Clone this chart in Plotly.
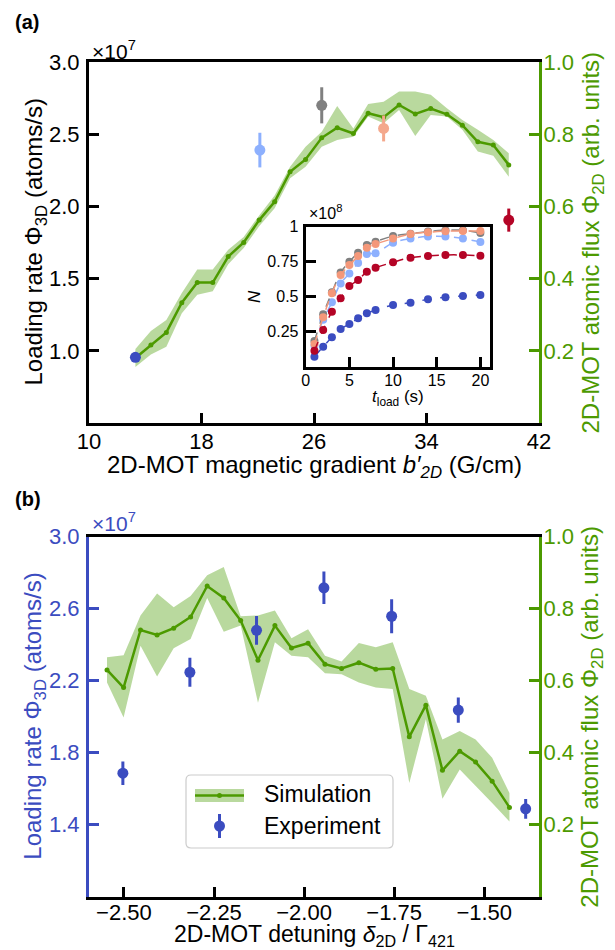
import plotly.graph_objects as go

# ---------------- data ----------------
# Panel (a): simulation (right axis, arb. units)
grad_sim = [13.3, 14.4, 15.5, 16.6, 17.7, 18.8, 19.9, 21.0, 22.1, 23.2, 24.3, 25.4,
            26.55, 27.65, 28.8, 29.85, 30.95, 32.05, 33.2, 34.3, 35.45, 36.55, 37.65, 38.75, 39.85]
flux_sim_a = [0.180, 0.216, 0.251, 0.333, 0.389, 0.389, 0.461, 0.500, 0.562, 0.613, 0.696, 0.730,
              0.790, 0.818, 0.802, 0.858, 0.847, 0.881, 0.856, 0.871, 0.855, 0.825, 0.779, 0.770, 0.715]
flux_hi_a = [0.205, 0.255, 0.285, 0.360, 0.425, 0.425, 0.480, 0.515, 0.575, 0.630, 0.710, 0.765,
             0.807, 0.878, 0.816, 0.884, 0.890, 0.918, 0.918, 0.909, 0.872, 0.839, 0.812, 0.784, 0.747]
flux_lo_a = [0.155, 0.190, 0.211, 0.304, 0.355, 0.365, 0.440, 0.485, 0.545, 0.595, 0.678, 0.710,
             0.765, 0.784, 0.793, 0.849, 0.830, 0.867, 0.795, 0.853, 0.849, 0.812, 0.752, 0.740, 0.682]

# Panel (a): experiment (left axis, units of 1e7 atoms/s)
grad_exp = [13.3, 22.15, 26.55, 30.95, 39.85]
load_exp_a = [0.955, 2.39, 2.70, 2.54, 1.905]
load_err_a = [0.03, 0.12, 0.125, 0.09, 0.08]
exp_colors_a = ["#3b4cc0", "#8db0fe", "#808080", "#f4a88c", "#b40426"]

# Inset: loading curves (units of 1e8 atoms)
t_load = [1, 2, 3, 4, 5, 6, 7, 8, 10, 12, 14, 16, 18, 20]
N_blue = [0.071, 0.143, 0.210, 0.269, 0.305, 0.346, 0.381, 0.405, 0.441, 0.457, 0.481, 0.496, 0.505, 0.512]
N_lightblue = [0.150, 0.335, 0.460, 0.595, 0.665, 0.740, 0.805, 0.810, 0.885, 0.915, 0.930, 0.930, 0.915, 0.890]
N_gray = [0.183, 0.374, 0.531, 0.672, 0.750, 0.814, 0.869, 0.893, 0.933, 0.950, 0.965, 0.975, 0.975, 0.955]
N_salmon = [0.162, 0.353, 0.524, 0.655, 0.726, 0.790, 0.850, 0.876, 0.915, 0.948, 0.960, 0.968, 0.970, 0.969]
N_red = [0.114, 0.262, 0.393, 0.489, 0.576, 0.619, 0.679, 0.707, 0.746, 0.779, 0.791, 0.798, 0.798, 0.792]
inset_series = [N_blue, N_lightblue, N_gray, N_salmon, N_red]
inset_colors = ["#3b4cc0", "#8db0fe", "#808080", "#f4987a", "#b40426"]

# Panel (b): simulation
detuning_sim = [-2.547, -2.501, -2.454, -2.408, -2.362, -2.315, -2.269, -2.223, -2.176, -2.128,
                -2.081, -2.035, -1.989, -1.942, -1.896, -1.848, -1.801, -1.754, -1.708, -1.662,
                -1.616, -1.568, -1.524, -1.478, -1.430]
flux_sim_b = [0.630, 0.581, 0.741, 0.727, 0.746, 0.777, 0.863, 0.830, 0.767, 0.657,
              0.753, 0.691, 0.704, 0.646, 0.634, 0.650, 0.632, 0.634, 0.444, 0.532,
              0.351, 0.404, 0.374, 0.321, 0.248]
flux_hi_b = [0.665, 0.671, 0.781, 0.842, 0.804, 0.835, 0.893, 0.916, 0.779, 0.781,
             0.795, 0.718, 0.743, 0.669, 0.653, 0.705, 0.693, 0.707, 0.577, 0.558,
             0.437, 0.460, 0.437, 0.386, 0.288]
flux_lo_b = [0.595, 0.498, 0.697, 0.612, 0.690, 0.716, 0.830, 0.736, 0.753, 0.539,
             0.707, 0.669, 0.665, 0.621, 0.618, 0.595, 0.581, 0.577, 0.316, 0.493,
             0.272, 0.353, 0.307, 0.260, 0.209]

# Panel (b): experiment
detuning_exp = [-2.503, -2.317, -2.132, -1.945, -1.757, -1.572, -1.385]
load_exp_b = [1.686, 2.247, 2.480, 2.716, 2.558, 2.037, 1.488]
load_err_b = [0.065, 0.080, 0.080, 0.090, 0.095, 0.070, 0.055]

# ---------------- styling ----------------
W, H = 615, 950
FONT = "Liberation Sans"
GREEN = "#4c9a00"
BAND = "rgba(100,170,40,0.45)"
BLUE = "#3b4cc0"


def fx(p):
    return p / W


def fy(p):
    return 1 - p / H


fig = go.Figure()

# ----- panel (a) -----
fig.add_trace(go.Scatter(x=grad_sim + grad_sim[::-1], y=flux_hi_a + flux_lo_a[::-1],
                         fill="toself", fillcolor=BAND, line=dict(width=0), mode="lines",
                         hoverinfo="skip", xaxis="x", yaxis="y"))
fig.add_trace(go.Scatter(x=grad_sim, y=flux_sim_a, mode="lines+markers",
                         line=dict(color=GREEN, width=2.5), marker=dict(color=GREEN, size=5),
                         xaxis="x", yaxis="y"))
for g, v, e, c in zip(grad_exp, load_exp_a, load_err_a, exp_colors_a):
    fig.add_trace(go.Scatter(x=[g], y=[v], mode="markers",
                             marker=dict(color=c, size=11),
                             error_y=dict(type="data", array=[e], color=c, thickness=3, width=0),
                             xaxis="x", yaxis="y2"))

# ----- inset -----
for N, c in zip(inset_series, inset_colors):
    fig.add_trace(go.Scatter(x=t_load, y=N, mode="lines+markers",
                             line=dict(color=c, width=1.5, dash="dash", shape="spline"),
                             marker=dict(color=c, size=8), xaxis="x3", yaxis="y5"))

# ----- panel (b) -----
fig.add_trace(go.Scatter(x=detuning_sim + detuning_sim[::-1], y=flux_hi_b + flux_lo_b[::-1],
                         fill="toself", fillcolor=BAND, line=dict(width=0), mode="lines",
                         hoverinfo="skip", xaxis="x2", yaxis="y3"))
fig.add_trace(go.Scatter(x=detuning_sim, y=flux_sim_b, mode="lines+markers",
                         line=dict(color=GREEN, width=2.5), marker=dict(color=GREEN, size=5),
                         xaxis="x2", yaxis="y3"))
fig.add_trace(go.Scatter(x=detuning_exp, y=load_exp_b, mode="markers",
                         marker=dict(color=BLUE, size=11),
                         error_y=dict(type="data", array=load_err_b, color=BLUE, thickness=3, width=0),
                         xaxis="x2", yaxis="y4"))


def axis_style(color, size=22, ticklen=10, standoff=0):
    return dict(showline=True, linewidth=3, linecolor=color, ticks="inside", ticklen=ticklen,
                tickwidth=3, tickcolor=color, tickfont=dict(size=size, color=color, family=FONT),
                showgrid=False, zeroline=False, ticklabelstandoff=standoff, automargin=False)


fig.update_layout(
    template="none",
    width=W, height=H, margin=dict(l=0, r=0, t=0, b=0, autoexpand=False),
    paper_bgcolor="white", plot_bgcolor="white", showlegend=False,
    font=dict(family=FONT, color="black", size=16),
    xaxis=dict(domain=[fx(89), fx(539)], range=[10, 42], anchor="y",
               tickvals=[10, 18, 26, 34, 42], mirror=True, **axis_style("black", standoff=-3)),
    yaxis=dict(domain=[fy(423), fy(62)], range=[0, 1], anchor="x", side="right",
               tickvals=[0.2, 0.4, 0.6, 0.8, 1.0], tickformat=".1f",
               **axis_style(GREEN, standoff=-3)),
    yaxis2=dict(range=[0.5, 3.0], overlaying="y", anchor="x", side="left",
                tickvals=[1.0, 1.5, 2.0, 2.5, 3.0], tickformat=".1f",
                **axis_style("black", standoff=2)),
    xaxis2=dict(domain=[fx(89), fx(539)], range=[-2.597, -1.348], anchor="y3",
                tickvals=[-2.5, -2.25, -2.0, -1.75, -1.5], tickformat=".2f", mirror=True,
                **axis_style("black", standoff=-6)),
    yaxis3=dict(domain=[fy(896.7), fy(536.7)], range=[0, 1], anchor="x2", side="right",
                tickvals=[0.2, 0.4, 0.6, 0.8, 1.0], tickformat=".1f",
                **axis_style(GREEN, standoff=-3)),
    yaxis4=dict(range=[1.0, 3.0], overlaying="y3", anchor="x2", side="left",
                tickvals=[1.4, 1.8, 2.2, 2.6, 3.0], tickformat=".1f",
                **axis_style(BLUE, standoff=2)),
    xaxis3=dict(domain=[fx(305.7), fx(490)], range=[0, 21.1], anchor="y5",
                tickvals=[0, 5, 10, 15, 20], mirror=True,
                **axis_style("black", 16, standoff=-3)),
    yaxis5=dict(domain=[fy(366.7), fy(226.7)], range=[0, 1], anchor="x3",
                tickvals=[0.25, 0.5, 0.75, 1.0], ticktext=["0.25", "0.5", "0.75", "1"],
                mirror=True, **axis_style("black", 16, standoff=1)),
)

ann = []


def add_text(text, x, y, size, color="black", angle=0, xanchor="center", bold=False):
    ann.append(dict(text=("<b>%s</b>" % text) if bold else text, x=fx(x), y=fy(y),
                    xref="paper", yref="paper", showarrow=False, xanchor=xanchor,
                    yanchor="middle", textangle=angle,
                    font=dict(size=size, color=color, family=FONT)))


add_text("(a)", 13, 22, 20, xanchor="left", bold=True)
add_text("(b)", 13, 499, 20, xanchor="left", bold=True)
add_text("×10<sup>7</sup>", 90, 50, 21, xanchor="left")
add_text("×10<sup>7</sup>", 90, 522, 21, color=BLUE, xanchor="left")
add_text("Loading rate Φ<sub>3D</sub> (atoms/s)", 35, 242.5, 24, angle=-90)
add_text("2D-MOT atomic flux Φ<sub>2D</sub> (arb. units)", 592, 242.5, 24, color=GREEN, angle=-90)
add_text("2D-MOT magnetic gradient <i>b′</i><sub><i>2D</i></sub> (G/cm)", 314, 466, 24)
add_text("Loading rate Φ<sub>3D</sub> (atoms/s)", 35, 716.7, 24, color=BLUE, angle=-90)
add_text("2D-MOT atomic flux Φ<sub>2D</sub> (arb. units)", 592, 716.7, 24, color=GREEN, angle=-90)
add_text("2D-MOT detuning <i>δ</i><sub>2D</sub> / Γ<sub>421</sub>", 314, 935, 23)
add_text("×10<sup>8</sup>", 307, 212, 16, xanchor="left")
add_text("<i>N</i>", 255, 297, 17, angle=-90)
add_text("<i>t</i><sub>load</sub> (s)", 398, 398, 17)
add_text("Simulation", 262, 794, 23, xanchor="left")
add_text("Experiment", 262, 826, 23, xanchor="left")


def rounded_rect(x0, y0, x1, y1, r):
    X = fx
    Y = fy
    return (f"M {X(x0 + r)},{Y(y0)} L {X(x1 - r)},{Y(y0)} Q {X(x1)},{Y(y0)} {X(x1)},{Y(y0 + r)} "
            f"L {X(x1)},{Y(y1 - r)} Q {X(x1)},{Y(y1)} {X(x1 - r)},{Y(y1)} "
            f"L {X(x0 + r)},{Y(y1)} Q {X(x0)},{Y(y1)} {X(x0)},{Y(y1 - r)} "
            f"L {X(x0)},{Y(y0 + r)} Q {X(x0)},{Y(y0)} {X(x0 + r)},{Y(y0)} Z")


shapes = [
    dict(type="path", path=rounded_rect(186, 775, 393, 848, 5), xref="paper", yref="paper",
         line=dict(color="#cccccc", width=1.2), fillcolor="rgba(255,255,255,0.8)", layer="above"),
    dict(type="rect", x0=fx(195), x1=fx(244), y0=fy(802), y1=fy(789), xref="paper", yref="paper",
         line=dict(width=0), fillcolor=BAND, layer="above"),
    dict(type="line", x0=fx(195), x1=fx(244), y0=fy(795.5), y1=fy(795.5), xref="paper",
         yref="paper", line=dict(color=GREEN, width=2.5), layer="above"),
    dict(type="circle", x0=fx(217), x1=fx(222), y0=fy(798), y1=fy(793), xref="paper",
         yref="paper", line=dict(width=0), fillcolor=GREEN, layer="above"),
    dict(type="line", x0=fx(219.5), x1=fx(219.5), y0=fy(838), y1=fy(814), xref="paper",
         yref="paper", line=dict(color=BLUE, width=3), layer="above"),
    dict(type="circle", x0=fx(214), x1=fx(225), y0=fy(831.5), y1=fy(820.5), xref="paper",
         yref="paper", line=dict(width=0), fillcolor=BLUE, layer="above"),
]

fig.update_layout(annotations=ann, shapes=shapes)
fig.write_html("out.html", config={"displayModeBar": False},
               post_script="document.body.style.margin='0px';document.body.style.overflow='hidden';")
